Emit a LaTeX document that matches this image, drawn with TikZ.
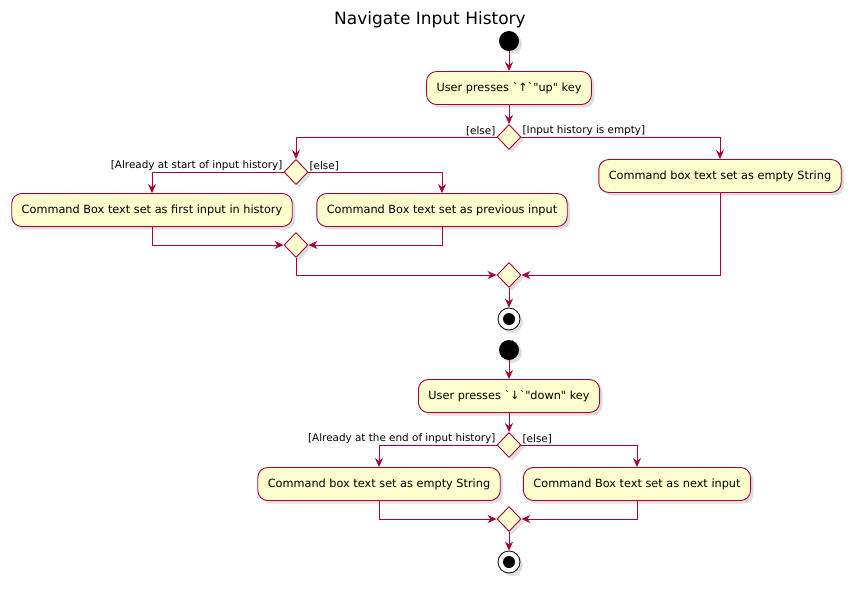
\documentclass[tikz,border=0pt]{standalone}
\usepackage{fontspec}
\setmainfont{DejaVu Sans}
\usetikzlibrary{arrows.meta,positioning,shapes.geometric,shadows}
\definecolor{umlred}{HTML}{A80036}
\definecolor{umlfill}{HTML}{FEFECE}

\begin{document}
\begin{tikzpicture}[x=1pt,y=-1pt,node distance=40pt,on grid,
    font=\fontsize{11.3}{13}\selectfont,
    umlshadow/.style={drop shadow={shadow xshift=3pt,shadow yshift=-3pt,opacity=0.25}},
    act/.style={draw=umlred,fill=umlfill,line width=0.9pt,rounded corners=10pt,
        minimum height=33pt,inner xsep=10pt,umlshadow},
    dec/.style={diamond,draw=umlred,fill=umlfill,line width=0.9pt,minimum width=24pt,
        minimum height=25pt,inner sep=0pt,umlshadow},
    startnode/.style={circle,fill=black,minimum size=20pt,inner sep=0pt,umlshadow},
    endnode/.style={circle,draw=black,fill=white,line width=0.8pt,minimum size=22pt,
        inner sep=0pt,umlshadow,
        path picture={\fill[black] (path picture bounding box.center) circle (6pt);}},
    guard/.style={font=\fontsize{10.4}{12}\selectfont,inner sep=1pt},
    flow/.style={draw=umlred,line width=0.9pt,-{Stealth[length=9pt,width=8pt,inset=3pt]}}]
    \useasboundingbox (0,0) rectangle (859,589);
    \node[font=\fontsize{17}{20}\selectfont] (title) at (430,20) {Navigate Input History};
    % up key
    \node[startnode] (s1) at (509,41) {};
    \node[act] (u1) [below=47pt of s1] {User presses \textasciigrave{}↑\textasciigrave\textquotedbl up\textquotedbl{} key};
    \node[dec] (d1) [below=49pt of u1] {};
    \node[dec] (d2) [below left=35pt and 213pt of d1] {};
    \node[act] (e1) [below right=39pt and 211pt of d1] {Command box text set as empty String};
    \node[act] (b1) [below left=38pt and 144pt of d2] {Command Box text set as first input in history};
    \node[act] (b2) [below right=38pt and 146pt of d2] {Command Box text set as previous input};
    \node[dec] (m1) [below=73pt of d2] {};
    \node[dec] (m2) [below=138pt of d1] {};
    \node[endnode] (f1) [below=44pt of m2] {};
    \node[guard,anchor=south east] (g1) at (d1.west) {[else]};
    \node[guard,anchor=south west] (g2) at (d1.east) {[Input history is empty]};
    \node[guard,anchor=south east] (g3) at (d2.west) {[Already at start of input history]};
    \node[guard,anchor=south west] (g4) at (d2.east) {[else]};
    \draw[flow] (s1) -- (u1);
    \draw[flow] (u1) -- (d1);
    \draw[flow] (d1.west) -| (d2.north);
    \draw[flow] (d1.east) -| (e1.north);
    \draw[flow] (d2.west) -| (b1.north);
    \draw[flow] (d2.east) -| (b2.north);
    \draw[flow] (b1.south) |- (m1.west);
    \draw[flow] (b2.south) |- (m1.east);
    \draw[flow] (m1.south) |- (m2.west);
    \draw[flow] (e1.south) |- (m2.east);
    \draw[flow] (m2) -- (f1);
    % down key
    \node[startnode] (s2) [below=31pt of f1] {};
    \node[act] (u2) [below=46pt of s2] {User presses \textasciigrave{}↓\textasciigrave\textquotedbl down\textquotedbl{} key};
    \node[dec] (d3) [below=49pt of u2] {};
    \node[act] (b3) [below left=39pt and 130pt of d3] {Command box text set as empty String};
    \node[act] (b4) [below right=39pt and 128pt of d3] {Command Box text set as next input};
    \node[dec] (m3) [below=74pt of d3] {};
    \node[endnode] (f2) [below=43pt of m3] {};
    \node[guard,anchor=south east] (g5) at (d3.west) {[Already at the end of input history]};
    \node[guard,anchor=south west] (g6) at (d3.east) {[else]};
    \draw[flow] (s2) -- (u2);
    \draw[flow] (u2) -- (d3);
    \draw[flow] (d3.west) -| (b3.north);
    \draw[flow] (d3.east) -| (b4.north);
    \draw[flow] (b3.south) |- (m3.west);
    \draw[flow] (b4.south) |- (m3.east);
    \draw[flow] (m3) -- (f2);
\end{tikzpicture}
\end{document}
